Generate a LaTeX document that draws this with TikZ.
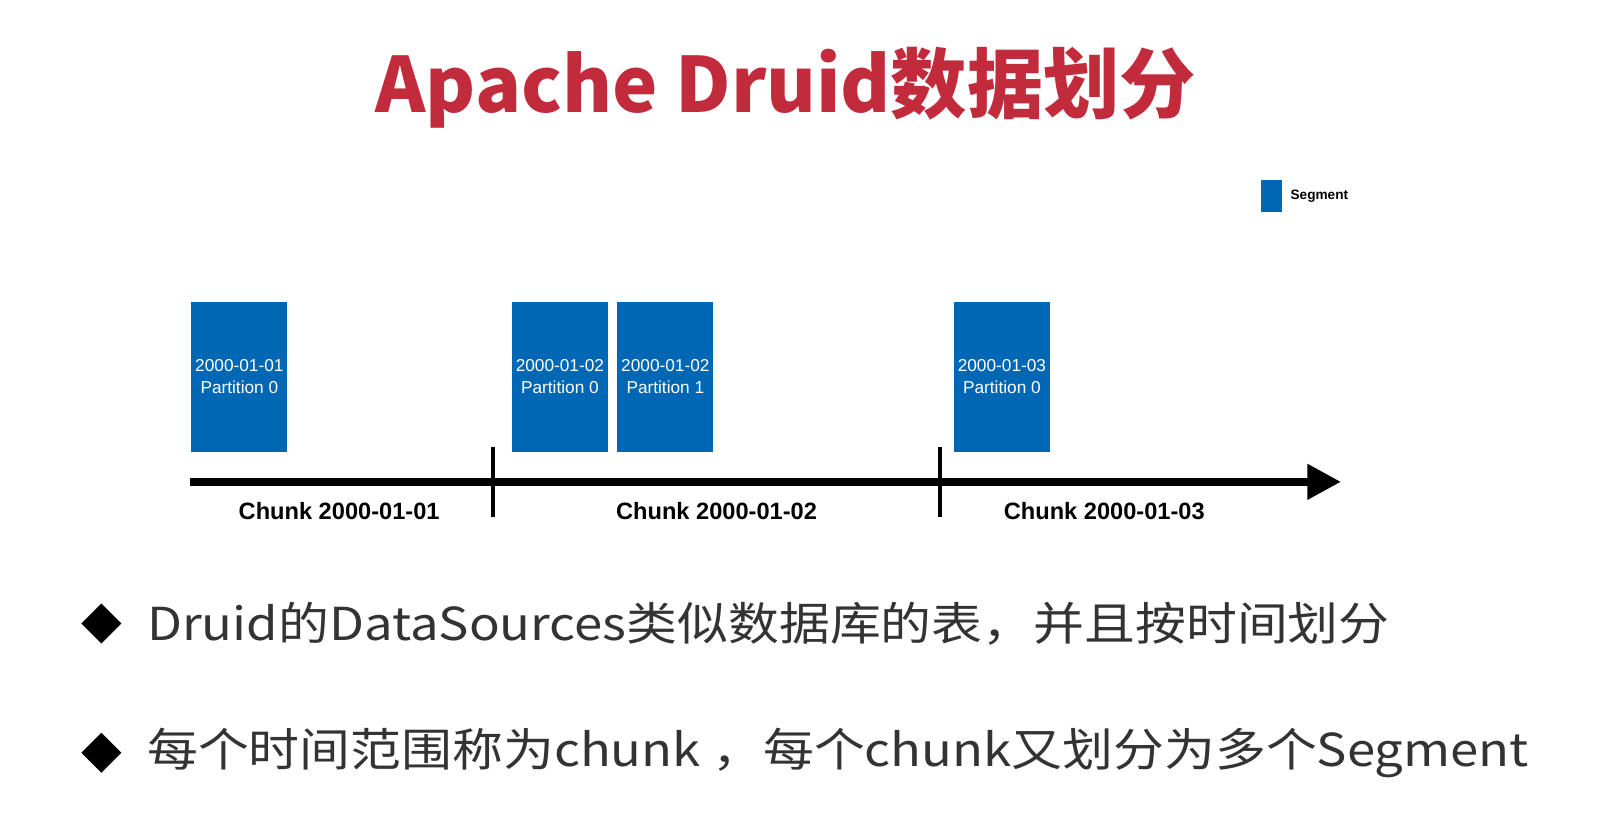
\documentclass[tikz,border=0pt]{standalone}
\usepackage{fontspec}
\setmainfont{Liberation Sans}
\newfontfamily\cjk{Noto Sans CJK SC}
\usepackage{tikz}
\usetikzlibrary{arrows.meta,shapes.geometric}
\definecolor{segblue}{HTML}{0067B4}
\definecolor{titlered}{HTML}{C22B3C}
\definecolor{bullettext}{HTML}{333333}
\tikzstyle{segment} = [fill=segblue,draw=none,minimum width=1.86cm,minimum height=2.9cm,inner sep=0pt,text=white,font=\fontsize{9.5}{12}\selectfont,align=center]
\tikzstyle{chunk} = [font=\bfseries\fontsize{13}{15}\selectfont,anchor=center]
\tikzstyle{tick} = [line width=2.3pt]
\tikzstyle{bullet} = [font=\cjk\fontsize{25}{28}\selectfont,text=bullettext,anchor=west,inner sep=0pt,xscale=1.12,transform shape]

\begin{document}
\begin{tikzpicture}[x=0.02cm,y=-0.02cm]
          \useasboundingbox (0,0) rectangle (1560,806);
          \node[font=\cjk\bfseries\fontsize{42}{48}\selectfont,text=titlered] (title) at (760,85) {Apache Druid数据划分};

          % legend
          \node[fill=segblue,minimum width=0.4cm,minimum height=0.62cm,inner sep=0pt] (key) at (1230,190) {};
          \node[font=\bfseries\fontsize{7.5}{9}\selectfont,anchor=west] (keytext) at (1242,190) {Segment};

          % segments
          \node[segment] (s1) at (231.5,364.5) {2000-01-01\\Partition 0};
          \node[segment] (s2) at (541.5,364.5) {2000-01-02\\Partition 0};
          \node[segment] (s3) at (643.5,364.5) {2000-01-02\\Partition 1};
          \node[segment] (s4) at (969,364.5) {2000-01-03\\Partition 0};

          % time axis
          \coordinate (start) at (184,466);
          \coordinate (end) at (1297,466);
          \draw[line width=4.5pt,-{Triangle[length=0.65cm,width=0.65cm]}] (start) -- (end);
          \coordinate (t1a) at (477,432);
          \coordinate (t1b) at (477,500);
          \coordinate (t2a) at (909,432);
          \coordinate (t2b) at (909,500);
          \draw[tick] (t1a) -- (t1b);
          \draw[tick] (t2a) -- (t2b);

          \node[chunk] (c1) at (328,494) {Chunk 2000-01-01};
          \node[chunk] (c2) at (693,494) {Chunk 2000-01-02};
          \node[chunk] (c3) at (1068,494) {Chunk 2000-01-03};

          % bullets
          \node[fill=black,diamond,inner sep=0pt,minimum size=0.78cm,shape aspect=1] (d1) at (98,603) {};
          \node[fill=black,diamond,inner sep=0pt,minimum size=0.78cm,shape aspect=1] (d2) at (98,728) {};
          \node[bullet] (b1) at (142,603) {Druid的DataSources类似数据库的表，并且按时间划分};
          \node[bullet] (b2) at (142,728) {每个时间范围称为chunk ，每个chunk又划分为多个Segment};
        \end{tikzpicture}
\end{document}
